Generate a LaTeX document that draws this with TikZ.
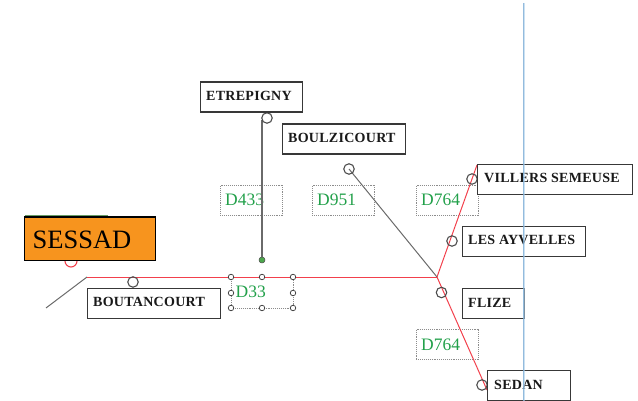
\documentclass[tikz,border=0pt]{standalone}
\usepackage{fontspec}
\setmainfont{Liberation Serif}
\definecolor{redl}{HTML}{F2404C}
\definecolor{greyl}{HTML}{6A6A6A}
\definecolor{greent}{HTML}{22A04A}
\definecolor{orangeb}{HTML}{F7941E}
\definecolor{guidea}{HTML}{A8CDEA}
\definecolor{guideb}{HTML}{6FA3CF}
\tikzset{
  town/.style={draw=black!78,line width=1.1pt,fill=white,inner sep=0,anchor=north west,minimum height=30pt},
  townlab/.style={font=\fontsize{14}{14}\selectfont\bfseries\addfontfeature{LetterSpace=2},text=black!90,anchor=base west,inner sep=0},
  road/.style={draw=black!45,densely dotted,line width=0.9pt,fill=none,anchor=north west,minimum width=61.5pt,minimum height=30pt,inner sep=0},
  roadlab/.style={font=\fontsize{17.5}{17.5}\selectfont,text=greent,anchor=base west,inner sep=0},
  redline/.style={draw=redl,line width=1pt},
  greyline/.style={draw=greyl,line width=1pt},
  stop/.style={circle,draw=black!70,line width=1.1pt,fill=none,minimum size=10.5pt,inner sep=0},
  handle/.style={circle,draw=black!80,line width=0.7pt,fill=white,minimum size=5.5pt,inner sep=0},
}
\begin{document}
\begin{tikzpicture}[x=1pt,y=-1pt]
\useasboundingbox (0,0) rectangle (638,401);
% junctions
\coordinate (w) at (46,308);
\coordinate (j) at (87,277);
\coordinate (x) at (437,277);
\coordinate (vt) at (477,165);
\coordinate (sb) at (487,390);
\coordinate (bt) at (349,169);
\coordinate (et) at (262,120);
\coordinate (gt) at (523.5,3);
\coordinate (gb) at (523.5,401);
% road label boxes
\node[road] (r1) at (220,185) {};
\node[roadlab] (t1) at (225,206) {D433};
\node[road] (r2) at (312,185) {};
\node[roadlab] (t2) at (317,206) {D951};
\node[road] (r3) at (416,185) {};
\node[roadlab] (t3) at (421,206) {D764};
\node[road] (r4) at (416,328.5) {};
\node[roadlab] (t4) at (421,350) {D764};
% selected D33 box
\node[road,minimum height=31pt] (r5) at (231,277) {};
% lines
\draw[greyline] (w) -- (j);
\draw[redline] (j) -- (x);
\draw[redline] (vt) -- (x) -- (sb);
\draw[greyline] (bt) -- (x);
\node[circle,fill=green!50!black!70!white,draw=black!70,line width=0.5pt,minimum size=6pt,inner sep=0] (dot) at (262,260) {};
\draw[draw=greyl,line width=1.2pt] (et) -- (dot);
\node[roadlab] (t5) at (235.5,298) {D33};
% handles
\foreach \n/\x/\y in {a/231/277,b/262/277,c/293/277,d/231/293,e/293/293,f/231/308,g/262/308,h/293/308}
  \node[handle] (h\n) at (\x,\y) {};
% stops
\node[stop,draw=redl,minimum size=12pt] (s0) at (71,261) {};
\node[stop] (s1) at (133,282) {};
\node[stop] (s2) at (267,118) {};
\node[stop] (s3) at (349,169) {};
\node[stop] (s4) at (472,179) {};
\node[stop] (s5) at (452,241) {};
\node[stop] (s6) at (441.5,292.5) {};
\node[stop] (s7) at (482,385) {};
% towns
\node[town,minimum width=101.5pt] (etr) at (200,81.5) {};
\node[townlab] at (206,101) {ETREPIGNY};
\node[town,minimum width=122.5pt] (bou) at (282,123.5) {};
\node[townlab] at (288,142.5) {BOULZICOURT};
\node[town,minimum width=154.5pt] (vil) at (477,164) {};
\node[townlab] at (484,183) {VILLERS SEMEUSE};
\node[town,minimum width=122.5pt] (lay) at (462,226) {};
\node[townlab] at (468,245) {LES AYVELLES};
\node[town,minimum width=61.5pt] (fli) at (462,287.5) {};
\node[townlab] at (468,307) {FLIZE};
\node[town,minimum width=82.5pt] (sed) at (487,369.5) {};
\node[townlab] at (494,389) {SEDAN};
\node[town,minimum width=132.5pt] (bta) at (87,287.5) {};
\node[townlab] at (93,306) {BOUTANCOURT};
% SESSAD
\draw[draw=green!35!black!60!white,line width=0.8pt] (25,215) -- (108,215);
\node[draw=black,line width=1.4pt,fill=orangeb,anchor=north west,minimum width=131.5pt,minimum height=43.5pt,inner sep=0] (ses) at (23.5,216.5) {};
\node[anchor=base west,inner sep=0,font=\fontsize{26.5}{26.5}\selectfont,text=black] at (32.5,248) {SESSAD};
% guide
\draw[draw=guidea,line width=2pt,opacity=0.6] (gt) -- (gb);
\draw[draw=guideb,line width=0.7pt,opacity=0.6] (gt) -- (gb);
\end{tikzpicture}
\end{document}
